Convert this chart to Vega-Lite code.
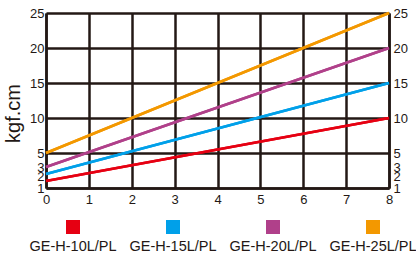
{
  "$schema": "https://vega.github.io/schema/vega-lite/v6.json",
  "padding": {"left": 3, "top": 7, "right": 0, "bottom": 0},
  "background": "white",
  "bounds": "flush",
  "spacing": 21,
  "config": {
    "view": {"stroke": null},
    "font": "Liberation Sans",
    "axis": {
      "domainColor": "#231815",
      "domainWidth": 2.5,
      "gridColor": "#231815",
      "gridWidth": 2.5,
      "gridOpacity": 1,
      "ticks": false,
      "tickSize": 0,
      "labelFontSize": 13,
      "labelColor": "#231815",
      "labelFont": "Liberation Sans",
      "titleFont": "Liberation Sans",
      "titleColor": "#231815",
      "titleFontWeight": "normal",
      "labelOverlap": false
    }
  },
  "datasets": {
    "lines": [
      {"series": "GE-H-10L/PL", "x": 0, "y": 1},
      {"series": "GE-H-10L/PL", "x": 8, "y": 10},
      {"series": "GE-H-15L/PL", "x": 0, "y": 2},
      {"series": "GE-H-15L/PL", "x": 8, "y": 15},
      {"series": "GE-H-20L/PL", "x": 0, "y": 3},
      {"series": "GE-H-20L/PL", "x": 8, "y": 20},
      {"series": "GE-H-25L/PL", "x": 0, "y": 5},
      {"series": "GE-H-25L/PL", "x": 8, "y": 25}
    ],
    "legend": [
      {"series": "GE-H-10L/PL"},
      {"series": "GE-H-15L/PL"},
      {"series": "GE-H-20L/PL"},
      {"series": "GE-H-25L/PL"}
    ]
  },
  "vconcat": [
    {
      "width": 343,
      "height": 175,
      "data": {"name": "lines"},
      "layer": [
        {
          "mark": {"type": "line", "strokeWidth": 2.5},
          "encoding": {
            "x": {
              "field": "x", "type": "quantitative",
              "scale": {"domain": [0, 8], "nice": false},
              "axis": {
                "values": [0, 1, 2, 3, 4, 5, 6, 7, 8],
                "title": null,
                "grid": true,
                "labelFlush": false,
                "labelPadding": 5
              }
            },
            "y": {
              "field": "y", "type": "quantitative",
              "scale": {"domain": [0, 25], "nice": false},
              "axis": {
                "orient": "left",
                "values": [0, 1.6, 3, 5, 10, 15, 20, 25],
                "labelExpr": "datum.value == 0 ? '1' : datum.value < 2 ? '2' : datum.label",
                "grid": true,
                "gridOpacity": {"condition": {"test": "datum.value > 0 && datum.value < 4", "value": 0}, "value": 1},
                "labelPadding": 2,
                "labelFlush": false,
                "title": "kgf.cm",
                "titleFontSize": 20,
                "titleX": -23,
                "titleY": 100
              }
            },
            "color": {
              "field": "series", "type": "nominal",
              "scale": {
                "domain": ["GE-H-10L/PL", "GE-H-15L/PL", "GE-H-20L/PL", "GE-H-25L/PL"],
                "range": ["#e60012", "#00a0e9", "#b0408a", "#f39800"]
              },
              "legend": null
            }
          }
        },
        {
          "mark": {"type": "line", "strokeWidth": 2.5},
          "encoding": {
            "x": {"field": "x", "type": "quantitative"},
            "y": {
              "field": "y", "type": "quantitative",
              "axis": {
                "orient": "right",
                "values": [0, 1.6, 3, 5, 10, 15, 20, 25],
                "labelExpr": "datum.value == 0 ? '1' : datum.value < 2 ? '2' : datum.label",
                "grid": false,
                "labelPadding": 4,
                "labelFlush": false,
                "title": null
              }
            },
            "color": {"field": "series", "type": "nominal", "legend": null}
          }
        }
      ],
      "resolve": {"axis": {"y": "independent"}}
    },
    {
      "width": 354,
      "height": 36,
      "data": {"name": "legend"},
      "layer": [
        {
          "mark": {"type": "point", "shape": "square", "filled": true, "size": 196, "opacity": 1},
          "encoding": {
            "x": {
              "field": "series", "type": "nominal",
              "scale": {"type": "point", "padding": 0.27},
              "axis": null
            },
            "color": {
              "field": "series", "type": "nominal",
              "scale": {
                "domain": ["GE-H-10L/PL", "GE-H-15L/PL", "GE-H-20L/PL", "GE-H-25L/PL"],
                "range": ["#e60012", "#00a0e9", "#b0408a", "#f39800"]
              },
              "legend": null
            }
          }
        },
        {
          "mark": {"type": "text", "dy": 20, "fontSize": 14.5, "color": "#231815", "font": "Liberation Sans"},
          "encoding": {
            "x": {"field": "series", "type": "nominal"},
            "text": {"field": "series"}
          }
        }
      ]
    }
  ]
}
